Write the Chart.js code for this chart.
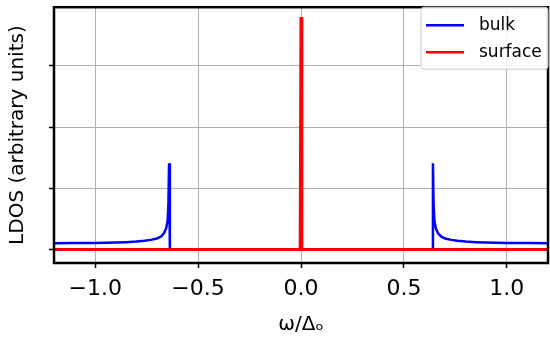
<!DOCTYPE html>
<html>
<head>
<meta charset="utf-8">
<script src="https://cdn.jsdelivr.net/npm/chart.js@4.4.1/dist/chart.umd.min.js"></script>
<style>
  html, body { margin: 0; padding: 0; background: #fff; }
  #wrap { width: 550px; height: 337px; position: relative; }
</style>
</head>
<body>
<div id="wrap"><canvas id="ldosChart" width="550" height="337"></canvas></div>
<script>
// ===== Data =====
// bulk LDOS, energies in units of the gap; mirrored coherence peaks at +-0.64
const bulkOmega = [-1.2, -1.1, -1.0, -0.95, -0.9, -0.85, -0.8, -0.76, -0.73, -0.7, -0.68, -0.665, -0.655, -0.648, -0.644, -0.641,
                   -0.637, -0.63, 0.63, 0.637,
                   0.641, 0.644, 0.648, 0.655, 0.665, 0.68, 0.7, 0.73, 0.76, 0.8, 0.85, 0.9, 0.95, 1.0, 1.1, 1.2];
const bulkValues = [0.103, 0.105, 0.108, 0.111, 0.115, 0.121, 0.13, 0.143, 0.158, 0.18, 0.215, 0.27, 0.35, 0.47, 0.75, 1.41,
                    0.01, 0.0, 0.0, 0.01,
                    1.41, 0.75, 0.47, 0.35, 0.27, 0.215, 0.18, 0.158, 0.143, 0.13, 0.121, 0.115, 0.111, 0.108, 0.105, 0.103];

// surface LDOS: zero-energy spike
const surfaceOmega = [-1.2, -0.004, 0.0, 0.004, 1.2];
const surfaceValues = [0.0, 0.0, 3.8, 0.0, 0.0];

const xTicks = [-1.0, -0.5, 0.0, 0.5, 1.0];
const yTicks = [0, 1, 2, 3];
const seriesNames = ['bulk', 'surface'];
const seriesColors = ['#0000ff', '#ff0000'];

const toPoints = (xs, ys) => xs.map((x, i) => ({ x: x, y: ys[i] }));

// ===== Plugins: axes frame + in-plot legend =====
const framePlugin = {
    id: 'frame',
    afterDatasetsDraw(chart) {
        const { ctx, chartArea: a } = chart;
        ctx.save();
        ctx.strokeStyle = '#000';
        ctx.lineWidth = 2.5;
        ctx.strokeRect(a.left, a.top, a.right - a.left, a.bottom - a.top);
        ctx.restore();
    }
};

const legendPlugin = {
    id: 'boxLegend',
    afterDraw(chart) {
        const { ctx, chartArea: a } = chart;
        const w = 127, h = 62;
        const x0 = a.right - w, y0 = a.top;
        ctx.save();
        ctx.fillStyle = 'rgba(255,255,255,0.85)';
        ctx.strokeStyle = '#cccccc';
        ctx.lineWidth = 1;
        ctx.beginPath();
        ctx.roundRect(x0, y0, w, h, 3);
        ctx.fill();
        ctx.stroke();
        ctx.font = '17px "DejaVu Sans"';
        ctx.textBaseline = 'middle';
        seriesNames.forEach((name, i) => {
            const cy = y0 + 18 + i * 27;
            ctx.strokeStyle = seriesColors[i];
            ctx.lineWidth = 2.5;
            ctx.beginPath();
            ctx.moveTo(x0 + 5, cy);
            ctx.lineTo(x0 + 43, cy);
            ctx.stroke();
            ctx.fillStyle = '#000';
            ctx.fillText(name, x0 + 58, cy);
        });
        ctx.restore();
    }
};

// ===== Chart =====
const fmtTick = v => (v < 0 ? '\u2212' : '') + Math.abs(v).toFixed(1);

new Chart(document.getElementById('ldosChart').getContext('2d'), {
    type: 'line',
    data: {
        datasets: [
            { label: seriesNames[1], data: toPoints(surfaceOmega, surfaceValues), borderColor: seriesColors[1],
              borderWidth: 3, pointRadius: 0, tension: 0, fill: false },
            { label: seriesNames[0], data: toPoints(bulkOmega, bulkValues), borderColor: seriesColors[0],
              borderWidth: 2.5, pointRadius: 0, tension: 0, fill: false }
        ]
    },
    options: {
        responsive: false,
        animation: false,
        layout: { padding: { top: 5, right: 2, left: 0, bottom: 0 } },
        plugins: { legend: { display: false }, tooltip: { enabled: false } },
        scales: {
            x: {
                type: 'linear', min: -1.2, max: 1.2,
                afterBuildTicks: s => { s.ticks = xTicks.map(v => ({ value: v })); },
                afterFit: s => { s.height = 74; },
                ticks: { callback: fmtTick, color: '#000', padding: 8, maxRotation: 0,
                         font: { family: 'DejaVu Sans', size: 22 } },
                grid: { color: '#b0b0b0', lineWidth: 1, tickColor: '#000', tickLength: 5, tickWidth: 1.5 },
                border: { display: false },
                title: { display: true, text: 'ω/Δₒ', color: '#000', padding: { top: 0, bottom: 0 },
                         font: { family: 'DejaVu Sans', size: 20 } }
            },
            y: {
                min: -0.22, max: 3.96,
                afterBuildTicks: s => { s.ticks = yTicks.map(v => ({ value: v })); },
                afterFit: s => { s.width = 54; },
                ticks: { callback: () => '', padding: 0 },
                grid: { color: '#b0b0b0', lineWidth: 1, tickColor: '#000', tickLength: 5, tickWidth: 1.5 },
                border: { display: false },
                title: { display: true, text: 'LDOS (arbitrary units)', color: '#000', padding: { top: 6, bottom: 0 },
                         font: { family: 'DejaVu Sans', size: 20 } }
            }
        }
    },
    plugins: [framePlugin, legendPlugin]
});
</script>
</body>
</html>
